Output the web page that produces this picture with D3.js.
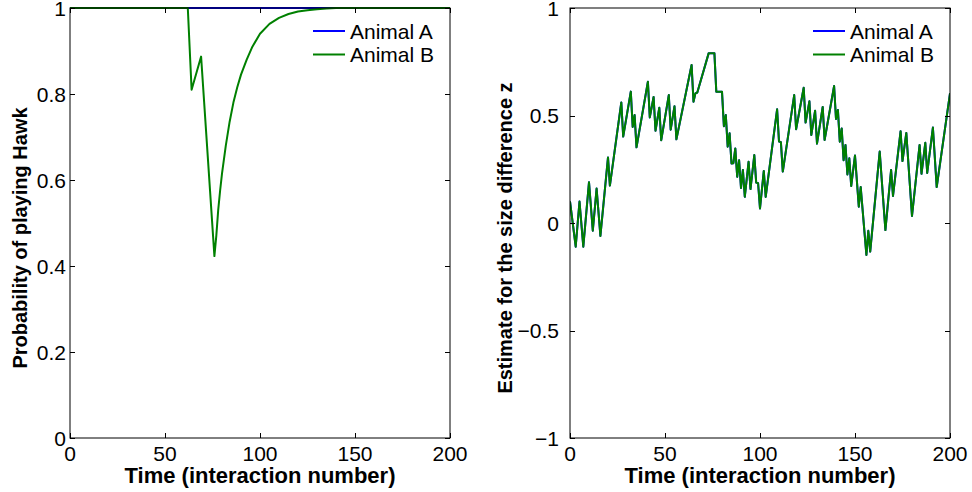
<!DOCTYPE html>
<html>
<head>
<meta charset="utf-8">
<script src="https://cdn.jsdelivr.net/npm/d3@7"></script>
<style>
  html, body { margin: 0; padding: 0; background: #fff; }
  svg { display: block; }
  text { font-family: "Liberation Sans", Arial, Helvetica, sans-serif; }
</style>
</head>
<body>
<svg id="chart" width="972" height="492"></svg>
<script>
// ---------- DATA ----------
const seriesNames = ["Animal A", "Animal B"];
const seriesColors = ["#0000ff", "#008000"];

// Left panel: probability of playing Hawk
const hawkTimeA = [0, 200];
const hawkProbA = [1, 1];
const hawkTimeB = [0, 62, 64, 69, 76, 77, 78, 79, 80, 82, 84, 86, 88, 90, 93, 96, 100, 105, 110, 115, 120, 125, 130, 135, 140, 200];
const hawkProbB = [1, 1, 0.81, 0.887, 0.423, 0.47, 0.53, 0.575, 0.615, 0.68, 0.735, 0.78, 0.815, 0.845, 0.88, 0.91, 0.94, 0.963, 0.977, 0.986, 0.992, 0.995, 0.997, 0.999, 1, 1];

// Right panel: estimate for the size difference z
const zTime = [0, 3, 5, 7, 10, 12, 14, 16, 20, 21, 27, 28, 32, 33, 34, 35, 41, 42, 44, 45, 47, 48, 52, 53, 55, 56,
  64, 65, 66, 67, 73, 76, 77, 80, 81, 82, 83, 84, 85, 86, 87, 88, 89, 90, 91, 92, 94, 95, 97, 98, 99, 100,
  102, 103, 109, 110, 111, 112, 118, 119, 123, 124, 126, 127, 129, 130, 133, 134, 139, 140, 141, 142, 143, 144,
  145, 146, 147, 148, 150, 152, 153, 156, 157, 158, 163, 166, 169, 170, 174, 175, 177, 180, 184, 185, 187, 188,
  191, 193, 200];
const zB = [0.10, -0.11, 0.10, -0.11, 0.19, -0.036, 0.16, -0.06, 0.305, 0.174, 0.561, 0.402, 0.611, 0.447, 0.502, 0.352,
  0.657, 0.491, 0.586, 0.429, 0.536, 0.385, 0.595, 0.434, 0.543, 0.389,
  0.735, 0.564, 0.603, 0.607, 0.79, 0.79, 0.611, 0.611, 0.45, 0.502, 0.355, 0.417, 0.277, 0.278, 0.347, 0.215,
  0.292, 0.163, 0.247, 0.122, 0.285, 0.158, 0.316, 0.188, 0.185, 0.068,
  0.242, 0.121, 0.529, 0.379, 0.376, 0.239, 0.595, 0.436, 0.629, 0.467, 0.566, 0.409, 0.522, 0.369, 0.54, 0.386,
  0.637, 0.484, 0.526, 0.378, 0.44, 0.292, 0.363, 0.226, 0.301, 0.172, 0.314, 0.076, 0.167, -0.149, -0.036, -0.133,
  0.332, -0.033, 0.247, 0.126, 0.427, 0.288, 0.419, 0.033, 0.363, 0.229, 0.373, 0.233, 0.444, 0.167, 0.603];
const zA = zB.slice();

const xTicks = [0, 50, 100, 150, 200];
const xTickLabels = ["0", "50", "100", "150", "200"];
const leftYTicks = [0, 0.2, 0.4, 0.6, 0.8, 1];
const leftYTickLabels = ["0", "0.2", "0.4", "0.6", "0.8", "1"];
const rightYTicks = [-1, -0.5, 0, 0.5, 1];
const rightYTickLabels = ["\u22121", "\u22120.5", "0", "0.5", "1"];

const xLabel = "Time (interaction number)";
const leftYLabel = "Probability of playing Hawk";
const rightYLabel = "Estimate for the size difference z";

// ---------- DRAW ----------
const svg = d3.select("#chart");
const TICK = 5;
const FS = 21;

function panel(opts) {
  const { x0, x1, y0, y1, yDomain, yTicks, yTickLabels, yLabel, yLabelX, yTickGap, series, legendX } = opts;
  const x = d3.scaleLinear().domain([0, 200]).range([x0, x1]);
  const y = d3.scaleLinear().domain(yDomain).range([y1, y0]);
  const g = svg.append("g");

  // lines
  const clipId = "clip" + x0;
  svg.append("clipPath").attr("id", clipId).append("rect")
    .attr("x", x0).attr("y", y0 - 2).attr("width", x1 - x0).attr("height", y1 - y0 + 4);
  const line = d3.line().x(d => x(d[0])).y(d => y(d[1]));
  series.forEach((s, i) => {
    g.append("path")
      .attr("clip-path", `url(#${clipId})`)
      .attr("d", line(s.t.map((t, k) => [t, s.v[k]])))
      .attr("fill", "none")
      .attr("stroke", seriesColors[i])
      .attr("stroke-width", 2)
      .attr("stroke-linejoin", "round");
  });

  // box
  g.append("rect").attr("x", x0).attr("y", y0).attr("width", x1 - x0).attr("height", y1 - y0)
    .attr("fill", "none").attr("stroke", "#000").attr("stroke-width", 1);

  // x ticks (bottom and mirrored top)
  xTicks.forEach((t, i) => {
    const px = Math.round(x(t)) + 0.5;
    g.append("line").attr("x1", px).attr("x2", px).attr("y1", y1).attr("y2", y1 - TICK).attr("stroke", "#000");
    g.append("line").attr("x1", px).attr("x2", px).attr("y1", y0).attr("y2", y0 + TICK).attr("stroke", "#000");
    g.append("text").attr("x", x(t)).attr("y", y1 + 23).attr("text-anchor", "middle")
      .attr("font-size", FS).text(xTickLabels[i]);
  });
  // y ticks (left and mirrored right)
  yTicks.forEach((t, i) => {
    const py = Math.round(y(t)) + 0.5;
    g.append("line").attr("x1", x0).attr("x2", x0 + TICK).attr("y1", py).attr("y2", py).attr("stroke", "#000");
    g.append("line").attr("x1", x1).attr("x2", x1 - TICK).attr("y1", py).attr("y2", py).attr("stroke", "#000");
    g.append("text").attr("x", x0 - yTickGap).attr("y", y(t) + 7.5).attr("text-anchor", "end")
      .attr("font-size", FS).text(yTickLabels[i]);
  });

  // axis labels
  g.append("text").attr("x", (x0 + x1) / 2).attr("y", y1 + 45).attr("text-anchor", "middle")
    .attr("font-size", 22).attr("font-weight", "bold").text(xLabel);
  g.append("text").attr("transform", `translate(${yLabelX},${(y0 + y1) / 2 + 15}) rotate(-90)`)
    .attr("text-anchor", "middle").attr("font-size", 20).attr("font-weight", "bold").text(yLabel);

  // legend
  seriesNames.forEach((n, i) => {
    const ly = y0 + 23 + i * 23.5;
    g.append("line").attr("x1", legendX).attr("x2", legendX + 32).attr("y1", ly).attr("y2", ly)
      .attr("stroke", seriesColors[i]).attr("stroke-width", 2);
    g.append("text").attr("x", legendX + 37).attr("y", ly + 7.5).attr("font-size", FS).text(n);
  });
}

panel({
  x0: 70, x1: 450, y0: 8, y1: 438,
  yDomain: [0, 1], yTicks: leftYTicks, yTickLabels: leftYTickLabels,
  yLabel: leftYLabel, yLabelX: 27, yTickGap: 4,
  series: [{ t: hawkTimeA, v: hawkProbA }, { t: hawkTimeB, v: hawkProbB }],
  legendX: 313
});
panel({
  x0: 570, x1: 950, y0: 8, y1: 438,
  yDomain: [-1, 1], yTicks: rightYTicks, yTickLabels: rightYTickLabels,
  yLabel: rightYLabel, yLabelX: 512, yTickGap: 11,
  series: [{ t: zTime, v: zA }, { t: zTime, v: zB }],
  legendX: 813
});
</script>
</body>
</html>
